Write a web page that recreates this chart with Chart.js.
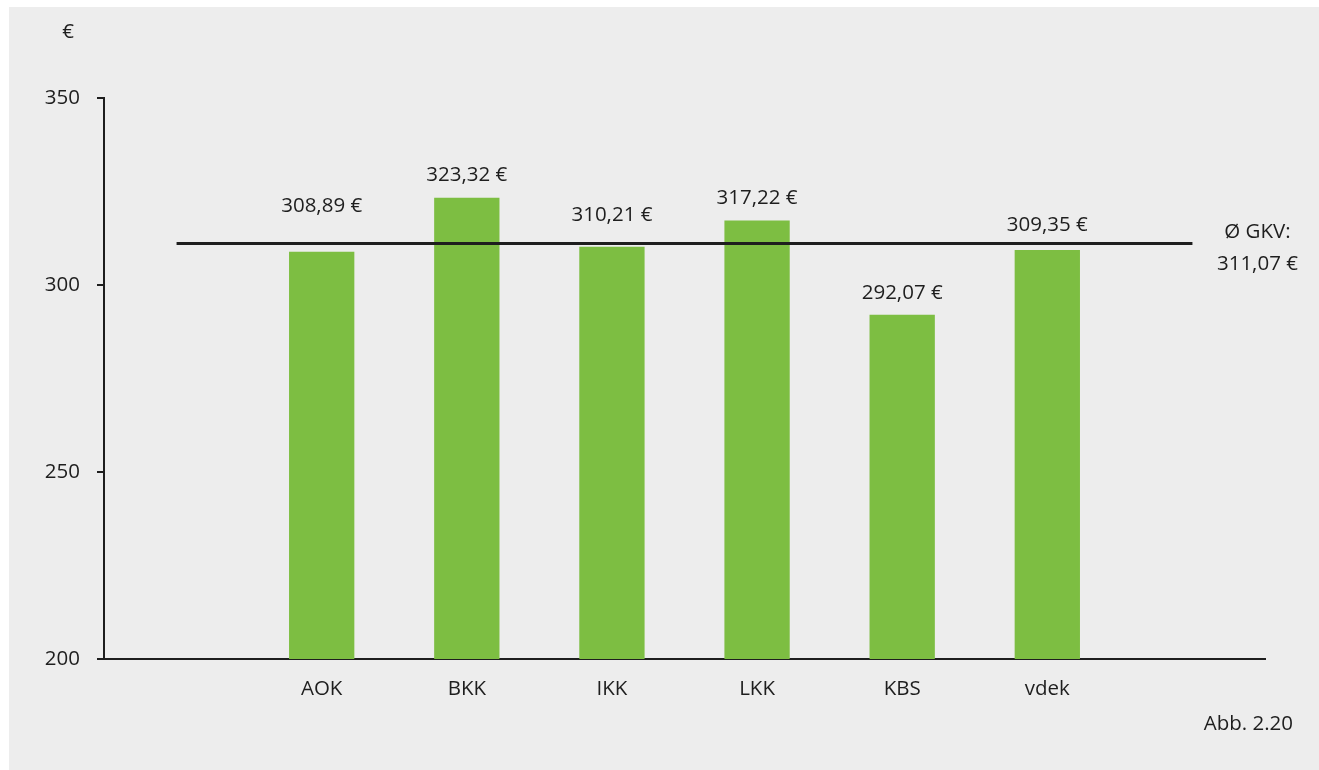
<!DOCTYPE html>
<html>
<head>
<meta charset="utf-8">
<script src="https://cdn.jsdelivr.net/npm/chart.js@4"></script>
<style>
  html, body { margin: 0; padding: 0; background: #fff; }
  canvas { display: block; }
</style>
</head>
<body>
<canvas id="kostenChart" width="1319" height="770"></canvas>
<script>
// Kassenarten, leere Kategorie vorne und hinten fuer die Durchschnittslinie
const categories = ['', 'AOK', 'BKK', 'IKK', 'LKK', 'KBS', 'vdek', ''];
const perInsured = [null, 308.89, 323.32, 310.21, 317.22, 292.07, 309.35, null];
const gkvAverage = 311.07;
const yTicks = [200, 250, 300, 350];

const textColor = '#1e1e1e';
const fontFamily = '"Open Sans", "Noto Sans", sans-serif';
const fontSize = 20.5;

// Abstand Label -> Balkenoberkante (Labels ueber der Linie hochgeschoben)
const labelGap = [0, 46, 23, 32, 22, 22, 25, 0];

const euro = v => v.toFixed(2).replace('.', ',') + ' €';

const paintBackground = {
    id: 'paintBackground',
    beforeDraw(chart) {
        const ctx = chart.ctx;
        ctx.save();
        ctx.fillStyle = '#ffffff';
        ctx.fillRect(0, 0, chart.width, chart.height);
        ctx.fillStyle = '#ededed';
        ctx.fillRect(9, 7, chart.width - 9, chart.height - 7);
        ctx.restore();
    }
};

const extraText = {
    id: 'extraText',
    afterDatasetsDraw(chart) {
        const ctx = chart.ctx;
        ctx.save();
        ctx.fillStyle = textColor;
        ctx.font = fontSize + 'px ' + fontFamily;
        ctx.textAlign = 'center';
        ctx.textBaseline = 'middle';

        // Werte ueber den Balken
        const bars = chart.getDatasetMeta(1).data;
        bars.forEach((bar, i) => {
            if (perInsured[i] == null) return;
            ctx.fillText(euro(perInsured[i]), bar.x, bar.y - labelGap[i]);
        });

        // Beschriftung der Durchschnittslinie
        const linePts = chart.getDatasetMeta(0).data;
        const last = linePts[linePts.length - 1];
        ctx.fillText('Ø GKV:', last.x + 65, last.y - 11);
        ctx.fillText(euro(gkvAverage), last.x + 65, last.y + 21);

        // Einheit und Abbildungsnummer
        ctx.fillText('€', 68, 32);
        ctx.textAlign = 'right';
        ctx.fillText('Abb. 2.20', 1293, 724);
        ctx.restore();
    }
};

const ctx = document.getElementById('kostenChart');

const kostenChart = new Chart(ctx, {
    data: {
        labels: categories,
        datasets: [
            {
                type: 'line',
                label: 'Ø GKV',
                data: categories.map(() => gkvAverage),
                borderColor: '#1e1e1e',
                borderWidth: 3,
                pointRadius: 0,
                order: 0
            },
            {
                type: 'bar',
                label: 'Kassenarten',
                data: perInsured,
                backgroundColor: '#7dbe42',
                barPercentage: 0.45,
                categoryPercentage: 1,
                order: 1
            }
        ]
    },
    plugins: [paintBackground, extraText],
    options: {
        responsive: false,
        animation: false,
        layout: {
            padding: { left: 0, right: 54, top: 98, bottom: 61 }
        },
        plugins: {
            legend: { display: false },
            tooltip: { enabled: false }
        },
        scales: {
            x: {
                grid: { display: false, drawTicks: false },
                border: { display: true, color: '#1e1e1e', width: 2 },
                ticks: {
                    color: textColor,
                    font: { family: fontFamily, size: fontSize },
                    padding: 18
                },
                afterFit(scale) { scale.height = 50; }
            },
            y: {
                min: 200,
                max: 350,
                afterBuildTicks(scale) {
                    scale.ticks = yTicks.map(v => ({ value: v }));
                },
                grid: {
                    drawOnChartArea: false,
                    drawTicks: true,
                    tickLength: 7,
                    color: '#1e1e1e',
                    lineWidth: 2
                },
                border: { display: true, color: '#1e1e1e', width: 2 },
                ticks: {
                    color: textColor,
                    font: { family: fontFamily, size: fontSize },
                    padding: 17
                },
                afterFit(scale) { scale.width = 104; }
            }
        }
    }
});
</script>
</body>
</html>
